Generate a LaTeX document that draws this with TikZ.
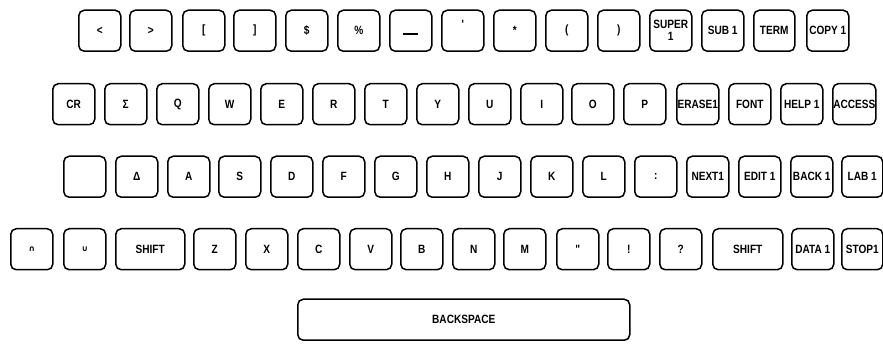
\documentclass[tikz,border=0pt]{standalone}
\usepackage{fontspec}
\newfontfamily\kf[FakeStretch=0.84]{Liberation Sans}
\newfontfamily\symf{DejaVu Sans}
\newcommand\kb[5]{\node[keybox,anchor=north west,minimum width=#4pt,minimum height=41pt] (#1) at (#2,#3) {#5};}
\begin{document}
\begin{tikzpicture}[x=1pt,y=-1pt,
  keybox/.style={draw, line width=1.5pt, rounded corners=5.5pt, inner sep=0pt,
    font=\kf\bfseries\fontsize{12}{13.5}\selectfont, align=center}]
\useasboundingbox (0,0) rectangle (883,344);
% Row 1
\kb{lt}{78}{9.5}{42}{<}
\kb{gt}{129}{9.5}{42}{>}
\kb{lbr}{182}{9.5}{42}{[}
\kb{rbr}{233}{9.5}{42}{]}
\kb{dol}{285}{9.5}{42}{\$}
\kb{pct}{337}{9.5}{42}{\%}
\kb{und}{389}{9.5}{42}{\smash{\rule[-4pt]{15pt}{1.4pt}}}
\kb{apo}{441}{9.5}{42}{\smash{\raisebox{2pt}{'}}}
\kb{ast}{493}{9.5}{42}{*}
\kb{lpar}{545}{9.5}{42}{(}
\kb{rpar}{597}{9.5}{42}{)}
\kb{super}{649}{9.5}{42}{SUPER\\[-1.5pt]1}
\kb{sub}{701}{9.5}{42}{SUB 1}
\kb{term}{753}{9.5}{41}{TERM}
\kb{copy}{806}{9.5}{42}{COPY 1}
% Row 2
\kb{cr}{52}{83}{42}{CR}
\kb{sig}{104}{83}{42}{Σ}
\kb{q}{156}{83}{42}{Q}
\kb{w}{208}{83}{42}{W}
\kb{e}{260}{83}{42}{E}
\kb{r}{312}{83}{42}{R}
\kb{t}{364}{83}{42}{T}
\kb{y}{416}{83}{42}{Y}
\kb{u}{468}{83}{42}{U}
\kb{i}{520}{83}{42}{I}
\kb{o}{571}{83}{42}{O}
\kb{p}{623}{83}{42}{P}
\kb{erase}{676}{83}{42}{ERASE1}
\kb{font}{728}{83}{42}{FONT}
\kb{help}{780}{83}{42}{HELP 1}
\kb{access}{832}{83}{43}{ACCESS}
% Row 3
\kb{blank}{63}{155.5}{42}{}
\kb{del}{115}{155.5}{42}{Δ}
\kb{a}{167}{155.5}{42}{A}
\kb{s}{218}{155.5}{42}{S}
\kb{d}{270}{155.5}{42}{D}
\kb{f}{322}{155.5}{42}{F}
\kb{g}{374}{155.5}{42}{G}
\kb{h}{426}{155.5}{42}{H}
\kb{j}{478}{155.5}{42}{J}
\kb{k}{530}{155.5}{42}{K}
\kb{l}{582}{155.5}{42}{L}
\kb{col}{634}{155.5}{42}{:}
\kb{next}{686}{155.5}{42}{NEXT1}
\kb{edit}{738}{155.5}{42}{EDIT 1}
\kb{back}{790}{155.5}{42}{BACK 1}
\kb{lab}{841}{155.5}{41}{LAB 1}
% Row 4
\kb{cap}{10}{228}{42}{{\symf\bfseries\fontsize{8}{9}\selectfont ∩}}
\kb{cup}{63}{228}{42}{{\symf\bfseries\fontsize{8}{9}\selectfont ∪}}
\kb{lshift}{115}{228}{69}{SHIFT}
\kb{z}{193}{228}{42}{Z}
\kb{x}{245}{228}{42}{X}
\kb{c}{297}{228}{42}{C}
\kb{v}{349}{228}{42}{V}
\kb{b}{400}{228}{42}{B}
\kb{n}{452}{228}{42}{N}
\kb{m}{503}{228}{42}{M}
\kb{quo}{556}{228}{42}{"}
\kb{exc}{607}{228}{42}{!}
\kb{que}{659}{228}{42}{?}
\kb{rshift}{712}{228}{70}{SHIFT}
\kb{data}{791}{228}{42}{DATA 1}
\kb{stop}{841}{228}{41}{STOP1}
% Row 5
\kb{bksp}{297}{298.5}{332}{BACKSPACE}
\end{tikzpicture}
\end{document}
